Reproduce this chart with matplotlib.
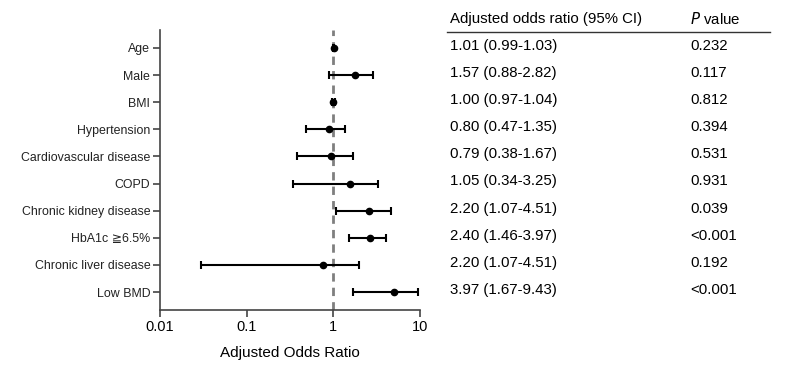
import numpy as np
import matplotlib.pyplot as plt
from matplotlib.transforms import blended_transform_factory

plt.rcParams['font.family'] = ['Liberation Sans', 'DejaVu Sans']

variables = ["Age", "Male", "BMI", "Hypertension", "Cardiovascular disease", "COPD",
             "Chronic kidney disease", "HbA1c \u22676.5%", "Chronic liver disease", "Low BMD"]
# values as drawn in the plot
or_point = [1.01, 1.79, 1.00, 0.88, 0.95, 1.57, 2.61, 2.66, 0.76, 5.05]
ci_low = [0.99, 0.90, 0.97, 0.48, 0.38, 0.34, 1.08, 1.50, 0.030, 1.68]
ci_high = [1.03, 2.86, 1.04, 1.37, 1.68, 3.32, 4.60, 4.03, 2.00, 9.43]
# table text
or_text = ["1.01 (0.99-1.03)", "1.57 (0.88-2.82)", "1.00 (0.97-1.04)", "0.80 (0.47-1.35)",
           "0.79 (0.38-1.67)", "1.05 (0.34-3.25)", "2.20 (1.07-4.51)", "2.40 (1.46-3.97)",
           "2.20 (1.07-4.51)", "3.97 (1.67-9.43)"]
p_text = ["0.232", "0.117", "0.812", "0.394", "0.531", "0.931", "0.039", "<0.001", "0.192", "<0.001"]
xticks = [0.01, 0.1, 1, 10]
xticklabels = ["0.01", "0.1", "1", "10"]

W, H = 800, 368
fig = plt.figure(figsize=(8, 3.68), dpi=100)
ax = fig.add_axes([160 / W, 1 - 310 / H, 260 / W, 280 / H])

n = len(variables)
y = np.arange(n)
pt = np.array(or_point)
err = [pt - np.array(ci_low), np.array(ci_high) - pt]

ax.axvline(1, color="#7f7f7f", lw=2, ls=(0, (3, 2.2)), zorder=1)
ax.errorbar(pt, y, xerr=err, fmt="o", color="black", ms=4.5, lw=1.5,
            capsize=3, capthick=1.5, zorder=3)

ax.set_xscale("log")
ax.set_xlim(0.01, 10)
ax.set_xticks(xticks)
ax.set_xticklabels(xticklabels, fontsize=10.5)
ax.minorticks_off()
ax.set_ylim(n - 1 + 0.66, -0.66)
ax.set_yticks(y)
ax.set_yticklabels(variables, fontsize=8.9, color="#222222")
ax.set_xlabel("Adjusted Odds Ratio", fontsize=11, labelpad=9)
for s in ["top", "right"]:
    ax.spines[s].set_visible(False)
for s in ["left", "bottom"]:
    ax.spines[s].set_color("#444444")
    ax.spines[s].set_linewidth(1.2)
ax.tick_params(axis="both", length=5, width=1.2, color="#444444", pad=2)

# table on the right
tr = blended_transform_factory(fig.transFigure, ax.transData)
for i in range(n):
    ax.text(450 / W, i - 0.08, or_text[i], transform=tr, fontsize=10.8, va="center",
            ha="left", clip_on=False)
    ax.text(690 / W, i - 0.08, p_text[i], transform=tr, fontsize=10.8, va="center",
            ha="left", clip_on=False)

fig.text(450 / W, 1 - 19 / H, "Adjusted odds ratio (95% CI)", fontsize=10.8, va="center")
fig.text(690 / W, 1 - 19 / H, "$\\it{P}$ value", fontsize=10.8, va="center")
fig.add_artist(plt.Line2D([447 / W, 770 / W], [1 - 32 / H, 1 - 32 / H], color="#333333", lw=1))

fig.savefig("out.png", dpi=100)
